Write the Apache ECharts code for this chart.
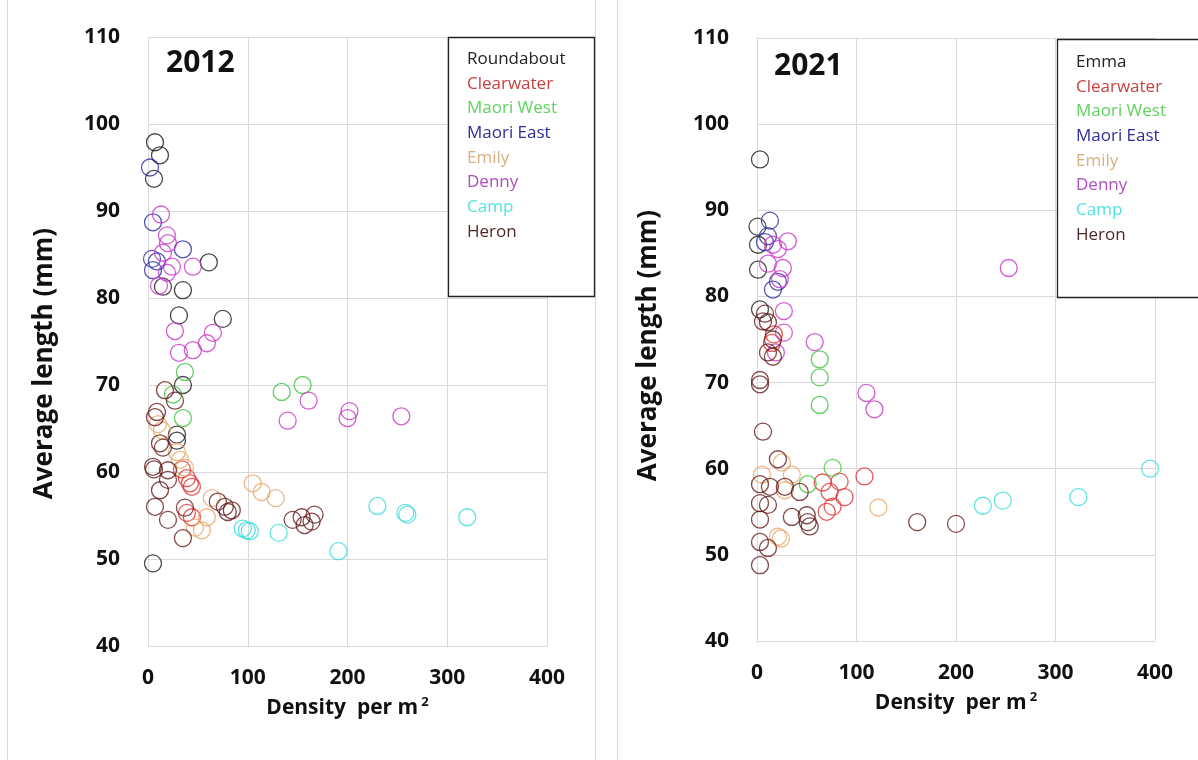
<!DOCTYPE html>
<html><head><meta charset="utf-8">
<script src="https://cdn.jsdelivr.net/npm/echarts@6/dist/echarts.min.js"></script>
<style>html,body{margin:0;padding:0;background:#fff}#c{width:1198px;height:760px}</style>
</head><body><div id="c"></div>
<script>
// ---- 2012 panel data: [density per m2, average length mm] ----
const roundabout2012 = [[7,97.9],[12,96.4],[6,93.7],[61,84.1],[15,81.3],[35,80.9],[31,78.0],[75,77.6],[35,70.0],[29,64.3],[29,63.6],[5,49.5]];
const clearwater2012 = [[34,60.3],[39,59.3],[42,58.7],[44,58.3],[39,55.3],[44,54.8]];
const maoriWest2012 = [[37,71.5],[25,68.9],[35,66.2],[134,69.2],[155,70.0]];
const maoriEast2012 = [[2,95.0],[5,88.7],[35,85.6],[4,84.5],[5,83.2],[9,84.2]];
const emily2012 = [[10,65.5],[14,64.8],[29,62.3],[32,61.4],[37,60.5],[64,57.0],[59,54.8],[47,53.6],[54,53.3],[105,58.7],[114,57.7],[128,57.0]];
const denny2012 = [[13,89.6],[19,87.2],[20,86.3],[15,85.2],[24,83.6],[45,83.6],[19,82.9],[11,81.4],[27,76.2],[65,76.0],[59,74.8],[45,74.0],[31,73.7],[140,65.9],[161,68.2],[202,67.0],[200,66.2],[254,66.4]];
const camp2012 = [[95,53.5],[99,53.3],[102,53.2],[131,53.0],[230,56.1],[258,55.3],[260,55.1],[320,54.8],[191,50.9]];
const heron2012 = [[17,69.4],[27,68.2],[9,66.9],[7,66.3],[12,63.3],[15,62.8],[5,60.6],[6,60.3],[20,60.2],[20,59.1],[12,57.9],[70,56.6],[7,56.0],[77,56.0],[37,55.9],[80,55.4],[84,55.6],[20,54.5],[35,52.4],[145,54.5],[154,54.8],[157,53.9],[164,54.3],[167,55.1]];

// ---- 2021 panel data ----
const emma2021 = [[3,95.9],[0.5,88.1],[1,86.0],[1,83.1],[3,78.5]];
const clearwater2021 = [[17,75.6],[15,74.6],[66,58.4],[83,58.5],[73,57.3],[88,56.7],[108,59.1],[70,55.0],[76,55.6]];
const maoriWest2021 = [[63,72.7],[63,70.6],[63,67.4],[76,60.1],[51,58.2]];
const maoriEast2021 = [[13,88.8],[11,87.0],[8,86.3],[21,81.7],[16,80.8]];
const emily2021 = [[5,59.3],[25,60.7],[35,59.3],[28,57.5],[122,55.5],[21,52.1],[24,51.9]];
const denny2021 = [[16,86.0],[21,85.5],[31,86.4],[11,83.8],[26,83.3],[23,82.0],[27,78.3],[27,75.8],[19,73.5],[58,74.7],[110,68.8],[118,66.9],[253,83.3]];
const camp2021 = [[227,55.7],[247,56.3],[323,56.7],[395,60.0]];
const heron2021 = [[6,77.1],[11,77.0],[16,75.0],[11,73.5],[16,73.0],[3,70.3],[3,69.8],[6,64.3],[21,61.1],[3,58.2],[13,57.9],[28,57.9],[43,57.3],[3,56.0],[11,55.8],[35,54.4],[50,54.6],[51,53.8],[53,53.3],[3,54.1],[3,51.5],[11,50.8],[3,48.8],[161,53.8],[200,53.6],[8,78.0]];

// ---- labels ----
const panelTitles = ['2012', '2021'];
const sites2012 = ['Roundabout','Clearwater','Maori West','Maori East','Emily','Denny','Camp','Heron'];
const sites2021 = ['Emma','Clearwater','Maori West','Maori East','Emily','Denny','Camp','Heron'];
const xTitle = 'Density  per m';
const yTitle = 'Average length (mm)';

const markerColors = ['#1a1a1a','#e03030','#3cc43c','#2a2aa6','#e8a868','#c836c8','#38dcdc','#641a1a'];
const legendColors = ['#222222','#c84040','#5fd25f','#2e2e96','#d8b080','#b04cc0','#52e2e2','#502828'];

const data2012 = [roundabout2012, clearwater2012, maoriWest2012, maoriEast2012, emily2012, denny2012, camp2012, heron2012];
const data2021 = [emma2021, clearwater2021, maoriWest2021, maoriEast2021, emily2021, denny2021, camp2021, heron2021];

const FONT = '"Open Sans", "Liberation Sans", sans-serif';

function makeX(gi) {
  return {
    type: 'value', gridIndex: gi, min: 0, max: 400, interval: 100,
    axisLine: {show: false}, axisTick: {show: false},
    splitLine: {show: true, lineStyle: {color: '#d9d9d9', width: 1}},
    axisLabel: {fontFamily: FONT, fontWeight: 'bold', fontSize: 21, color: '#111', margin: 22, lineHeight: 20},
    name: xTitle + '{sup|2}', nameLocation: 'middle', nameGap: 50,
    nameTextStyle: {fontFamily: FONT, fontWeight: 'bold', fontSize: 21, color: '#111', lineHeight: 24,
      rich: {sup: {fontFamily: FONT, fontSize: 13, color: '#111', verticalAlign: 'top', lineHeight: 13, padding: [0,0,0,3]}}}
  };
}
function makeY(gi, shift) {
  return {
    type: 'value', gridIndex: gi, min: 40, max: 110, interval: 10,
    axisLine: {show: false}, axisTick: {show: false},
    splitLine: {show: true, lineStyle: {color: '#d9d9d9', width: 1}},
    axisLabel: {fontFamily: FONT, fontWeight: 'bold', fontSize: 21, color: '#111', margin: 28},
    name: yTitle, nameLocation: 'middle', nameGap: gi === 0 ? 90 : 95,
    nameTextStyle: {fontFamily: FONT, fontWeight: 'bold', fontSize: 26, color: '#111', padding: [0, shift, 0, 0]}
  };
}

const series = [];
sites2012.forEach((n, i) => series.push({
  name: n, type: 'scatter', xAxisIndex: 0, yAxisIndex: 0, data: data2012[i],
  symbol: 'circle', symbolSize: 17,
  itemStyle: {color: 'rgba(255,255,255,0)', borderColor: markerColors[i], borderWidth: 1.3}
}));
sites2021.forEach((n, i) => series.push({
  name: n, type: 'scatter', xAxisIndex: 1, yAxisIndex: 1, data: data2021[i],
  symbol: 'circle', symbolSize: 17,
  itemStyle: {color: 'rgba(255,255,255,0)', borderColor: markerColors[i], borderWidth: 1.3}
}));

function makeLegend(names, left, top) {
  return {
    orient: 'vertical', left: left, top: top, padding: 0, z: 10,
    icon: 'rect', itemWidth: 0, itemHeight: 0, itemGap: 6.7,
    selectedMode: false,
    textStyle: {fontFamily: FONT, fontSize: 17, lineHeight: 18},
    data: names.map((n, i) => ({name: n, textStyle: {color: legendColors[i], fontFamily: FONT, fontSize: 17, lineHeight: 18}}))
  };
}

const chart = echarts.init(document.getElementById('c'), null, {renderer: 'canvas'});
chart.setOption({
  backgroundColor: '#ffffff',
  animation: false,
  title: [
    {text: panelTitles[0], left: 166, top: 46, textStyle: {fontFamily: FONT, fontWeight: 'bold', fontSize: 30, color: '#111', lineHeight: 34}, padding: 0},
    {text: panelTitles[1], left: 774, top: 49, textStyle: {fontFamily: FONT, fontWeight: 'bold', fontSize: 30, color: '#111', lineHeight: 34}, padding: 0}
  ],
  grid: [
    {left: 148, top: 37, width: 399, height: 609},
    {left: 757, top: 38, width: 398, height: 603}
  ],
  xAxis: [makeX(0), makeX(1)],
  yAxis: [makeY(0, 44), makeY(1, 12)],
  legend: [makeLegend(sites2012, 461, 50), makeLegend(sites2021, 1070, 53)],
  graphic: [
    {type: 'line', shape: {x1: 7.5, y1: 0, x2: 7.5, y2: 760}, style: {stroke: '#d9d9d9', lineWidth: 1}, silent: true},
    {type: 'line', shape: {x1: 595.5, y1: 0, x2: 595.5, y2: 760}, style: {stroke: '#d9d9d9', lineWidth: 1}, silent: true},
    {type: 'line', shape: {x1: 617.5, y1: 0, x2: 617.5, y2: 760}, style: {stroke: '#d9d9d9', lineWidth: 1}, silent: true},
    {type: 'rect', shape: {x: 448.5, y: 37.5, width: 146, height: 259}, style: {fill: '#fff', stroke: '#222', lineWidth: 1.3}, z: 1, silent: true},
    {type: 'rect', shape: {x: 1057.5, y: 39.5, width: 200, height: 258}, style: {fill: '#fff', stroke: '#222', lineWidth: 1.3}, z: 1, silent: true}
  ],
  series: series
});
</script></body></html>
